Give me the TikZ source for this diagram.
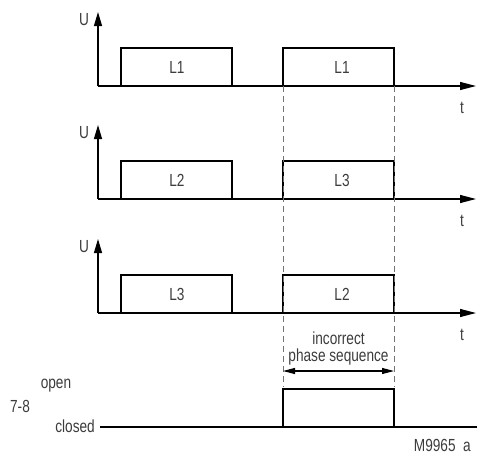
\documentclass[tikz,border=0pt]{standalone}
\usepackage{fontspec}
\setmainfont[FakeStretch=0.78]{Liberation Sans}
\usetikzlibrary{arrows.meta}
\definecolor{txt}{RGB}{60,60,60}
\tikzset{
  axisline/.style={line width=1.1pt, draw=black},
  signal/.style={line width=2.3pt, draw=black, line join=miter},
  guide/.style={line width=1pt, draw=black!55, dash pattern=on 6pt off 4pt},
  lbl/.style={font=\fontsize{17.5}{19}\selectfont, text=txt, inner sep=0pt},
  uarrow/.style={-{Triangle[length=14pt,width=8pt]}},
  tarrow/.style={-{Triangle[length=16pt,width=8pt]}},
  dimarrow/.style={{Triangle[length=12pt,width=6pt]}-{Triangle[length=12pt,width=6pt]}, line width=1.1pt}
}
\begin{document}
\begin{tikzpicture}[x=1pt,y=-1pt]
\useasboundingbox (0,0) rectangle (477,455);
% panels
\foreach \b/\la/\lb/\k in {86/L1/L1/a,199/L2/L3/b,313/L3/L2/c}{
  \coordinate (o\k) at (98,\b);
  \coordinate (u\k) at (98,\b-74);
  \coordinate (t\k) at (476,\b);
  \draw[axisline,uarrow] (o\k) -- (u\k);
  \draw[axisline,tarrow] (o\k) -- (t\k);
  \draw[signal] (o\k) -- (121,\b) -- (121,\b-38) -- (232,\b-38) -- (232,\b)
     -- (283,\b) -- (283,\b-38) -- (394,\b-38) -- (394,\b) -- (443,\b);
  \node[lbl] (U\k) at (84,\b-66) {U};
  \node[lbl] (T\k) at (462,\b+22) {t};
  \node[lbl] (A\k) at (177,\b-19) {\la};
  \node[lbl] (B\k) at (342,\b-19) {\lb};
}
% dashed guides
\coordinate (g1t) at (283,86);
\coordinate (g1b) at (283,387);
\coordinate (g2t) at (394,86);
\coordinate (g2b) at (394,387);
\draw[guide] (g1t) -- (g1b);
\draw[guide] (g2t) -- (g2b);
% dimension arrow
\coordinate (d1) at (283,371);
\coordinate (d2) at (394,371);
\draw[dimarrow] (d1) -- (d2);
\node[lbl] (inc) at (338.5,338) {incorrect};
\node[lbl] (phs) at (338.5,357) {phase sequence};
% relay 7-8
\coordinate (c0) at (100,427);
\coordinate (c1) at (443,427);
\coordinate (c2) at (477,427);
\draw[axisline] (c0) -- (c2);
\draw[signal] (c0) -- (283,427) -- (283,389) -- (394,389) -- (394,427) -- (c1);
\node[lbl,anchor=east] (cl) at (95,426) {closed};
\node[lbl] (op) at (56,386) {open};
\node[lbl] (r78) at (20,406) {7-8};
\node[lbl,anchor=east] (m) at (471,445) {M9965\ \ a};
\end{tikzpicture}
\end{document}
